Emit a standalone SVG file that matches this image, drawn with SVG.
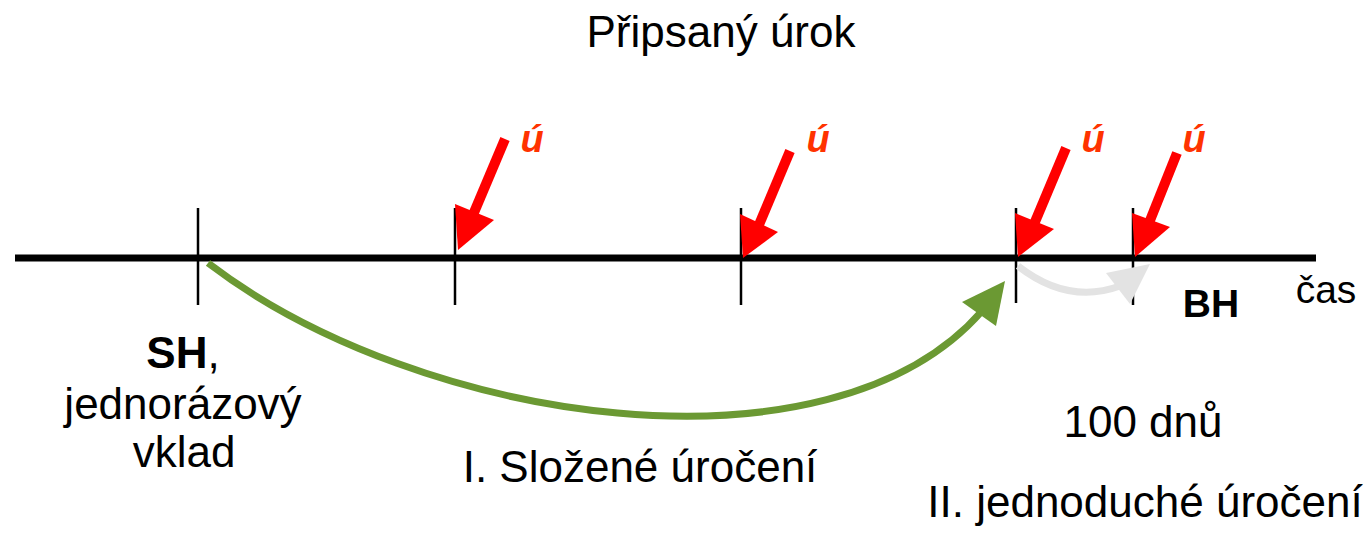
<svg xmlns="http://www.w3.org/2000/svg" width="1366" height="534" viewBox="0 0 1366 534">
<style>
.t{font-family:"Liberation Sans",Arial,sans-serif;font-size:44px;fill:#000}
.b{font-weight:bold}
.u{font-family:"Liberation Sans",Arial,sans-serif;font-size:38px;font-weight:bold;font-style:italic;fill:#FF3300}
.tick{stroke:#000;stroke-width:2.5}
.shaft{stroke:#FF0000;stroke-width:10;fill:none}
.head{fill:#FF0000}
</style>
<rect width="1366" height="534" fill="#fff"/>
<g id="axis">
<line x1="15" y1="258" x2="1316" y2="258" stroke="#000" stroke-width="7"/>
<line class="tick" x1="198" y1="208" x2="198" y2="305"/>
<line class="tick" x1="455" y1="208" x2="455" y2="305"/>
<line class="tick" x1="741" y1="208" x2="741" y2="305"/>
<line class="tick" x1="1016" y1="208" x2="1016" y2="303"/>
<line class="tick" x1="1133" y1="208" x2="1133" y2="305"/>
</g>
<g id="title"><text class="t" x="721" y="47" text-anchor="middle">Připsaný úrok</text></g>
<g id="interest1">
<line class="shaft" x1="505" y1="139" x2="470" y2="222"/>
<polygon class="head" points="458,250 455,204 494,220"/>
<text class="u" x="532" y="152" text-anchor="middle">ú</text>
</g>
<g id="interest2">
<line class="shaft" x1="790" y1="151" x2="756" y2="232"/>
<polygon class="head" points="743,258 740,214 778,232"/>
<text class="u" x="818" y="152" text-anchor="middle">ú</text>
</g>
<g id="interest3">
<line class="shaft" x1="1066" y1="148" x2="1032" y2="229"/>
<polygon class="head" points="1018,257 1015,213 1054,229"/>
<text class="u" x="1093" y="152" text-anchor="middle">ú</text>
</g>
<g id="interest4">
<line class="shaft" x1="1177" y1="153" x2="1147" y2="228"/>
<polygon class="head" points="1135,257 1132,213 1170,227"/>
<text class="u" x="1194" y="152" text-anchor="middle">ú</text>
</g>
<g id="connectors">
<path d="M208,263 C420,425 830,485 982,311" fill="none" stroke="#6B9933" stroke-width="7"/>
<polygon points="1005,281 962,302 996,326" fill="#6B9933"/>
<path d="M1018,266 Q1068,305 1120,286" fill="none" stroke="#E3E3E3" stroke-width="7"/>
<polygon points="1150,264 1106,273 1130,304" fill="#E3E3E3"/>
</g>
<g id="start">
<text class="t" x="183" y="368" text-anchor="middle"><tspan class="b">SH</tspan>,</text>
<text class="t" x="183" y="419" text-anchor="middle">jednorázový</text>
<text class="t" x="184" y="467" text-anchor="middle">vklad</text>
</g>
<g id="end"><text class="t b" x="1211" y="317" text-anchor="middle" style="font-size:39px">BH</text></g>
<g id="axis-label"><text class="t" x="1326" y="303" text-anchor="middle" style="font-size:39px">čas</text></g>
<g id="days"><text class="t" x="1143" y="437" text-anchor="middle">100 dnů</text></g>
<g id="compound"><text class="t" x="640" y="482" text-anchor="middle">I. Složené úročení</text></g>
<g id="simple"><text class="t" x="1145" y="517" text-anchor="middle">II. jednoduché úročení</text></g>
</svg>
